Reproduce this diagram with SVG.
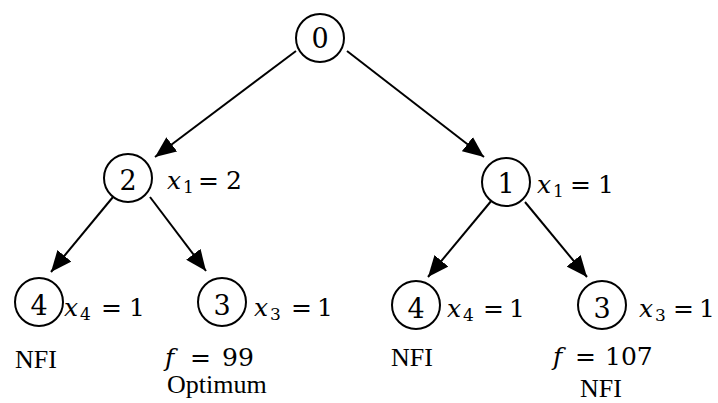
<svg xmlns="http://www.w3.org/2000/svg" width="718" height="403" viewBox="0 0 718 403">
<style>
.node circle{fill:#fff;stroke:#000;stroke-width:2}
.dig{font-family:"DejaVu Serif","Liberation Serif",serif;font-size:27px;text-anchor:middle;fill:#000}
.m{font-family:"DejaVu Serif","Liberation Serif",serif;font-size:25px;fill:#000}
.i{font-style:italic}
.s{font-size:17px}
.t{font-family:"Liberation Serif","Times New Roman",serif;font-size:26px;fill:#000}
.edge{stroke:#000;stroke-width:2;fill:none;marker-end:url(#ah)}
</style>
<defs>
<marker id="ah" markerUnits="userSpaceOnUse" markerWidth="22" markerHeight="18" viewBox="0 0 22 18" refX="21" refY="9" orient="auto">
<path d="M0,0 L21,9 L0,18 Z" fill="#000"/>
</marker>
</defs>
<g id="connectors">
<line class="edge" x1="296" y1="51" x2="155" y2="157"/>
<line class="edge" x1="347" y1="51" x2="484" y2="157"/>
<line class="edge" x1="113" y1="197" x2="51" y2="272"/>
<line class="edge" x1="150" y1="197" x2="206" y2="271"/>
<line class="edge" x1="492" y1="200" x2="428" y2="277"/>
<line class="edge" x1="525" y1="202" x2="587" y2="277"/>
</g>
<g id="n0" class="node"><circle cx="320" cy="38" r="24"/><text class="dig" x="320" y="48">0</text></g>
<g id="n2" class="node"><circle cx="128" cy="178" r="24"/><text class="dig" x="128" y="190">2</text>
<text class="m"><tspan class="i" x="167" y="189">x</tspan><tspan class="s" x="183" y="193">1</tspan><tspan x="198" y="189">=</tspan><tspan x="226" y="189">2</tspan></text></g>
<g id="n1" class="node"><circle cx="506" cy="182" r="24"/><text class="dig" x="506" y="193">1</text>
<text class="m"><tspan class="i" x="537" y="193">x</tspan><tspan class="s" x="553" y="197">1</tspan><tspan x="570" y="193">=</tspan><tspan x="598" y="193">1</tspan></text></g>
<g id="n4a" class="node"><circle cx="39" cy="302" r="24"/><text class="dig" x="39" y="315">4</text>
<text class="m"><tspan class="i" x="64" y="316">x</tspan><tspan class="s" x="80" y="320">4</tspan><tspan x="101" y="316">=</tspan><tspan x="129" y="316">1</tspan></text>
<text class="t" x="15" y="368">NFI</text></g>
<g id="n3a" class="node"><circle cx="222" cy="302" r="24"/><text class="dig" x="222" y="315">3</text>
<text class="m"><tspan class="i" x="254" y="316">x</tspan><tspan class="s" x="270" y="320">3</tspan><tspan x="291" y="316">=</tspan><tspan x="317" y="316">1</tspan></text>
<text class="m"><tspan class="i" x="165" y="366">f</tspan><tspan x="190" y="366">=</tspan><tspan x="222" y="366">99</tspan></text>
<text class="t" x="167" y="393">Optimum</text></g>
<g id="n4b" class="node"><circle cx="416" cy="305" r="24"/><text class="dig" x="416" y="318">4</text>
<text class="m"><tspan class="i" x="447" y="317">x</tspan><tspan class="s" x="463" y="321">4</tspan><tspan x="483" y="317">=</tspan><tspan x="509" y="317">1</tspan></text>
<text class="t" x="391" y="366">NFI</text></g>
<g id="n3b" class="node"><circle cx="602" cy="305" r="24"/><text class="dig" x="602" y="318">3</text>
<text class="m"><tspan class="i" x="639" y="317">x</tspan><tspan class="s" x="655" y="321">3</tspan><tspan x="673" y="317">=</tspan><tspan x="699" y="317">1</tspan></text>
<text class="m"><tspan class="i" x="553" y="365">f</tspan><tspan x="575" y="365">=</tspan><tspan x="605" y="365">107</tspan></text>
<text class="t" x="580" y="397">NFI</text></g>
</svg>
